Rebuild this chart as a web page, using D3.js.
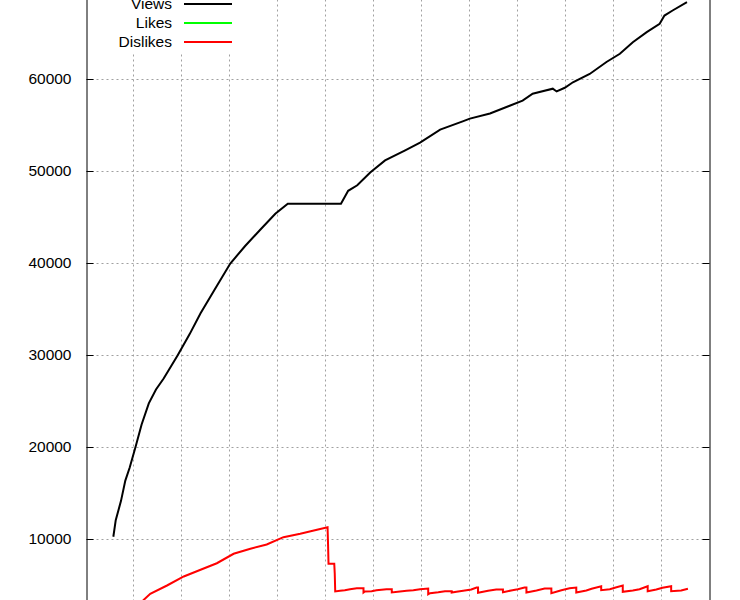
<!DOCTYPE html>
<html>
<head>
<meta charset="utf-8">
<script src="https://cdn.jsdelivr.net/npm/d3@7"></script>
<style>
  body { margin: 0; overflow: hidden; background: #fff; }
  svg text { font-family: "Liberation Sans", Arial, sans-serif; }
</style>
</head>
<body>
<div id="chart"></div>
<script>
// x = days since start, value = count
var viewsT = [0.56, 0.61, 0.72, 0.81, 0.90, 1.02, 1.15, 1.30, 1.45, 1.61, 1.90, 2.15, 2.38, 2.70, 3.00, 3.31, 3.63, 3.94, 4.20,
              5.31, 5.46, 5.65, 5.92, 6.23, 6.65, 6.96, 7.38, 7.85, 8.00, 8.42, 8.83, 9.10, 9.31, 9.73, 9.81,
              9.98, 10.15, 10.50, 10.85, 11.13, 11.40, 11.69, 11.96, 12.06, 12.23, 12.53];
var viewsV = [10300, 12100, 14200, 16400, 17800, 20000, 22500, 24800, 26300, 27500, 30000, 32300, 34600, 37400, 40000, 41900, 43700, 45400, 46500,
              46500, 47900, 48500, 49900, 51200, 52300, 53150, 54550, 55450, 55750, 56300, 57150, 57700, 58450, 59000, 58700,
              59100, 59700, 60600, 61900, 62800, 64050, 65150, 66050, 66950, 67500, 68400];

var dislikesT = [0.56, 1.18, 1.33, 1.68, 2.03, 2.38, 2.72, 3.07, 3.42, 3.76, 4.11, 4.46, 4.81, 5.03, 5.04, 5.05, 5.17, 5.18, 5.19,
                 5.29, 5.39, 5.50, 5.64, 5.78, 5.78, 5.81, 5.95, 6.05, 6.26, 6.37, 6.37, 6.54, 6.68, 6.82, 6.96, 7.13, 7.13,
                 7.17, 7.34, 7.48, 7.62, 7.62, 7.72, 7.86, 8.03, 8.14, 8.17, 8.17, 8.38, 8.55, 8.69, 8.69, 8.86, 9.00, 9.14,
                 9.18, 9.18, 9.39, 9.56, 9.70, 9.70, 9.91, 10.08, 10.22, 10.22, 10.43, 10.54, 10.74, 10.74, 10.92, 11.06,
                 11.19, 11.19, 11.40, 11.54, 11.71, 11.71, 11.89, 12.02, 12.20, 12.20, 12.41, 12.55];
var dislikesV = [1400, 3370, 4100, 5000, 5980, 6710, 7420, 8450, 8990, 9460, 10250, 10620, 11050, 11340, 9560, 7360, 7360, 6340, 4350,
                 4420, 4490, 4600, 4710, 4710, 4240, 4350, 4380, 4490, 4600, 4600, 4240, 4350, 4420, 4490, 4600, 4670, 4050,
                 4160, 4270, 4380, 4380, 4240, 4320, 4420, 4560, 4780, 4780, 4210, 4420, 4560, 4560, 4270, 4460, 4600, 4780,
                 4780, 4240, 4460, 4670, 4670, 4160, 4490, 4710, 4780, 4240, 4460, 4640, 4920, 4490, 4600, 4810,
                 5000, 4320, 4460, 4600, 4920, 4380, 4560, 4750, 4920, 4380, 4460, 4640];

var seriesNames = ["Views", "Likes", "Dislikes"];
var seriesColors = ["#000000", "#00ff00", "#ff0000"];
var yTicks = [10000, 20000, 30000, 40000, 50000, 60000];
var xTicks = [1, 2, 3, 4, 5, 6, 7, 8, 9, 10, 11, 12];

var width = 740, height = 600;
var svg = d3.select("#chart").append("svg").attr("width", width).attr("height", height);

var x = d3.scaleLinear().domain([0, 13]).range([86.5, 709.5]);
var y = d3.scaleLinear().domain([0, 70000]).range([631.5, -12.5]);

// grid
var grid = svg.append("g");
grid.selectAll(".vg").data(xTicks).enter().append("line")
  .attr("x1", function(d) { return Math.round(x(d)) - 0.5; })
  .attr("x2", function(d) { return Math.round(x(d)) - 0.5; })
  .attr("y1", y(0)).attr("y2", y(70000))
  .attr("stroke", "#a0a0a0").attr("stroke-dasharray", "2,3");
grid.selectAll(".hg").data(yTicks).enter().append("line")
  .attr("x1", x(0)).attr("x2", x(13))
  .attr("y1", function(d) { return Math.round(y(d)) - 0.5; })
  .attr("y2", function(d) { return Math.round(y(d)) - 0.5; })
  .attr("stroke", "#a0a0a0").attr("stroke-dasharray", "2,3");

// legend box hides grid
svg.append("rect").attr("x", 90).attr("y", -20).attr("width", 150).attr("height", 72).attr("fill", "#fff");

// axes
var yLeft = svg.append("g").attr("transform", "translate(" + x(0) + ",0)")
  .call(d3.axisLeft(y).tickValues(yTicks).tickSize(-7).tickPadding(15).tickFormat(d3.format("d")));
var yRight = svg.append("g").attr("transform", "translate(" + x(13) + ",0)")
  .call(d3.axisRight(y).tickValues(yTicks).tickSize(-7).tickFormat(""));
[yLeft, yRight].forEach(function(a) {
  a.select(".domain").attr("stroke", "#000");
  a.selectAll(".tick line").attr("stroke", "#000");
  a.selectAll(".tick").attr("transform", function(d) { return "translate(0," + (Math.round(y(d)) - 0.5) + ")"; });
});
yLeft.selectAll(".tick text").style("font-size", "15.5px").attr("fill", "#000");

var line = d3.line()
  .x(function(d) { return x(d[0]); })
  .y(function(d) { return y(d[1]); });

svg.append("path")
  .datum(d3.zip(viewsT, viewsV))
  .attr("d", line)
  .attr("fill", "none").attr("stroke", seriesColors[0]).attr("stroke-width", 2);

svg.append("path")
  .datum(d3.zip(dislikesT, dislikesV))
  .attr("d", line)
  .attr("fill", "none").attr("stroke", seriesColors[2]).attr("stroke-width", 2);

// legend
var legend = svg.append("g");
seriesNames.forEach(function(name, i) {
  var ly = 4 + i * 19;
  legend.append("text")
    .attr("x", 172).attr("y", ly).attr("dy", "0.35em")
    .attr("text-anchor", "end")
    .style("font-size", "15.5px")
    .text(name);
  legend.append("line")
    .attr("x1", 184).attr("x2", 232)
    .attr("y1", ly).attr("y2", ly)
    .attr("stroke", seriesColors[i]).attr("stroke-width", 2);
});
</script>
</body>
</html>
